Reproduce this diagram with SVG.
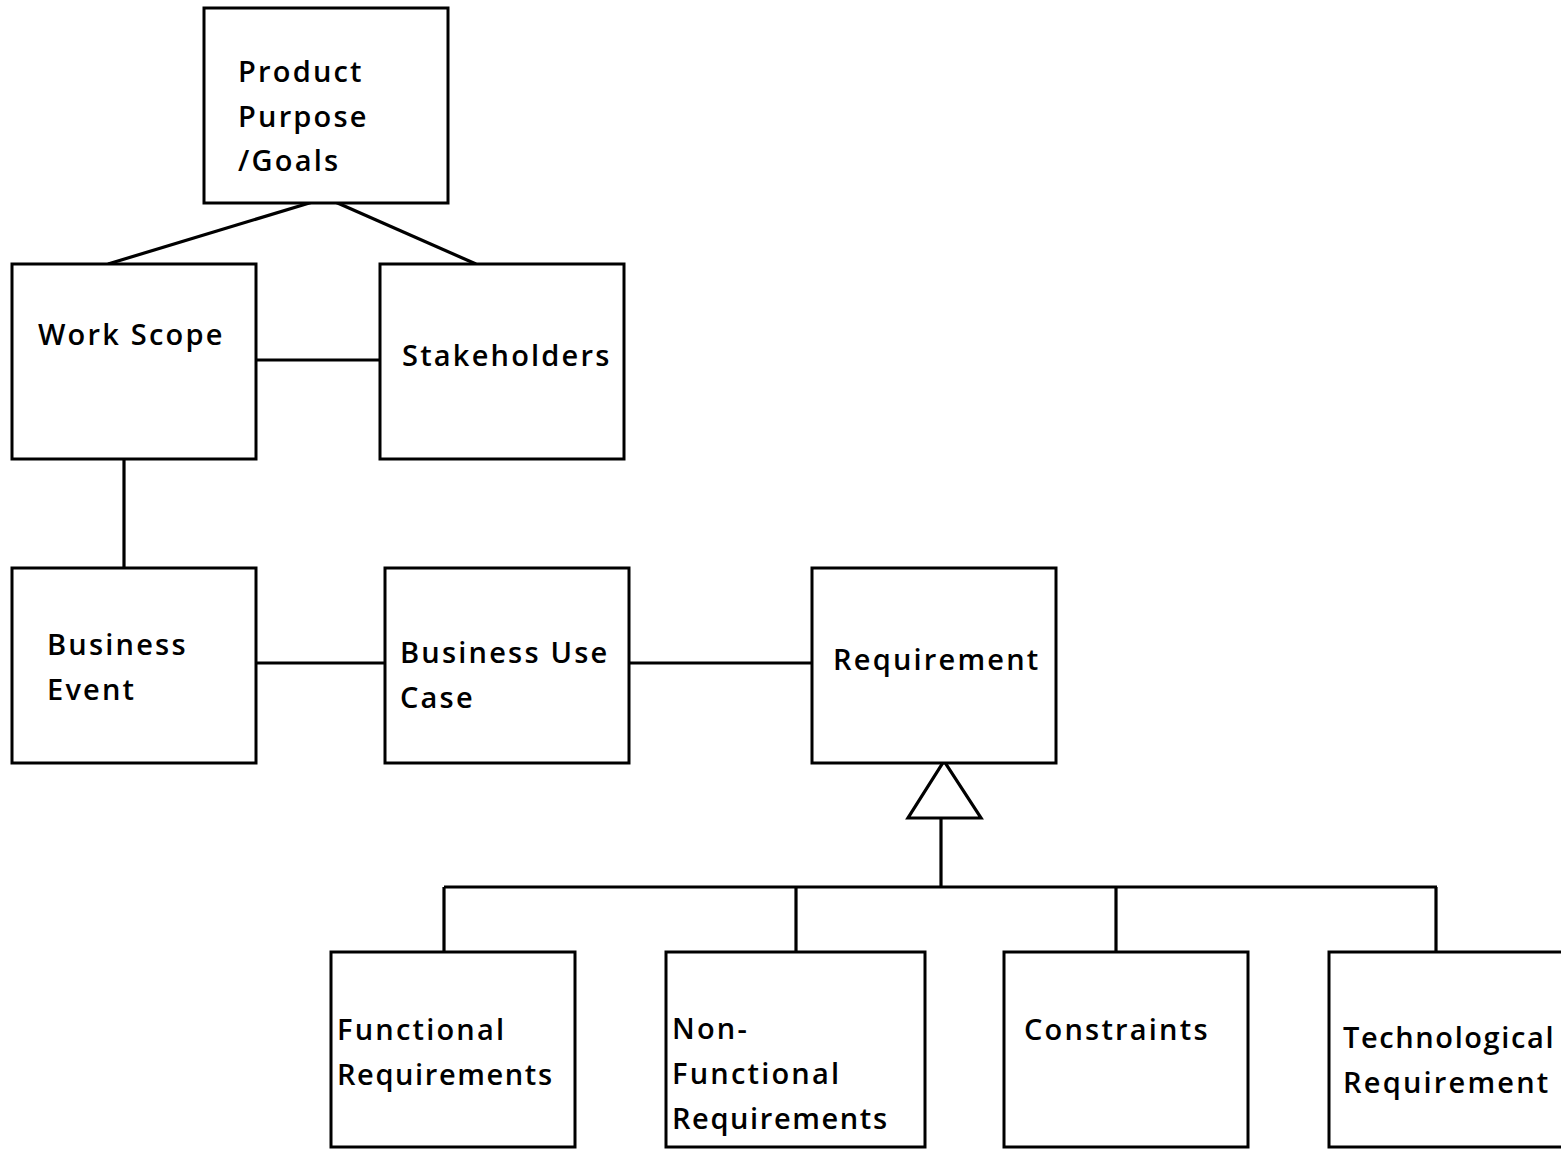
<svg xmlns="http://www.w3.org/2000/svg" width="1561" height="1149" viewBox="0 0 1561 1149">
  <style>
    .box { fill: #ffffff; stroke: #000000; stroke-width: 3; }
    .lbl { font-family: "Open Sans", "DejaVu Sans", sans-serif; font-weight: 600; font-size: 29px; fill: #000000; letter-spacing: 2.2px; }
    .tight { letter-spacing: 1.6px; }
    .wire { stroke: #000000; stroke-width: 3.2; fill: none; }
  </style>
  <rect width="1561" height="1149" fill="#ffffff"/>

  <g id="connectors">
    <line class="wire" x1="316" y1="201" x2="108" y2="264"/>
    <line class="wire" x1="333" y1="201" x2="476" y2="264"/>
    <line class="wire" x1="253" y1="360" x2="380" y2="360"/>
    <line class="wire" x1="124" y1="457" x2="124" y2="568"/>
    <line class="wire" x1="253" y1="663" x2="385" y2="663"/>
    <line class="wire" x1="629" y1="663" x2="812" y2="663"/>
    <polygon class="wire" points="944,761 908,818 981,818" fill="#ffffff"/>
    <line class="wire" x1="941" y1="818" x2="941" y2="887"/>
    <line class="wire" x1="444" y1="887" x2="1437" y2="887"/>
    <line class="wire" x1="444" y1="887" x2="444" y2="958"/>
    <line class="wire" x1="796" y1="887" x2="796" y2="958"/>
    <line class="wire" x1="1116" y1="887" x2="1116" y2="958"/>
    <line class="wire" x1="1436" y1="887" x2="1436" y2="958"/>
  </g>

  <g id="product-purpose">
    <rect class="box" x="204" y="8" width="244" height="195"/>
    <text class="lbl" x="238" y="82">Product</text>
    <text class="lbl" x="238" y="127">Purpose</text>
    <text class="lbl" x="238" y="171">/Goals</text>
  </g>

  <g id="work-scope">
    <rect class="box" x="12" y="264" width="244" height="195"/>
    <text class="lbl" x="38" y="345">Work Scope</text>
  </g>

  <g id="stakeholders">
    <rect class="box" x="380" y="264" width="244" height="195"/>
    <text class="lbl" x="402" y="366">Stakeholders</text>
  </g>

  <g id="business-event">
    <rect class="box" x="12" y="568" width="244" height="195"/>
    <text class="lbl" x="47" y="655">Business</text>
    <text class="lbl" x="47" y="700">Event</text>
  </g>

  <g id="business-use-case">
    <rect class="box" x="385" y="568" width="244" height="195"/>
    <text class="lbl" x="400" y="663">Business Use</text>
    <text class="lbl" x="400" y="708">Case</text>
  </g>

  <g id="requirement">
    <rect class="box" x="812" y="568" width="244" height="195"/>
    <text class="lbl" x="833" y="670">Requirement</text>
  </g>

  <g id="functional-requirements">
    <rect class="box" x="331" y="952" width="244" height="195"/>
    <text class="lbl" x="337" y="1040">Functional</text>
    <text class="lbl tight" x="337" y="1085">Requirements</text>
  </g>

  <g id="non-functional-requirements">
    <rect class="box" x="666" y="952" width="259" height="195"/>
    <text class="lbl" x="672" y="1039">Non-</text>
    <text class="lbl" x="672" y="1084">Functional</text>
    <text class="lbl tight" x="672" y="1129">Requirements</text>
  </g>

  <g id="constraints">
    <rect class="box" x="1004" y="952" width="244" height="195"/>
    <text class="lbl" x="1024" y="1040">Constraints</text>
  </g>

  <g id="technological-requirement">
    <rect class="box" x="1329" y="952" width="244" height="195"/>
    <text class="lbl tight" x="1343" y="1048">Technological</text>
    <text class="lbl" x="1343" y="1093">Requirement</text>
  </g>
</svg>
